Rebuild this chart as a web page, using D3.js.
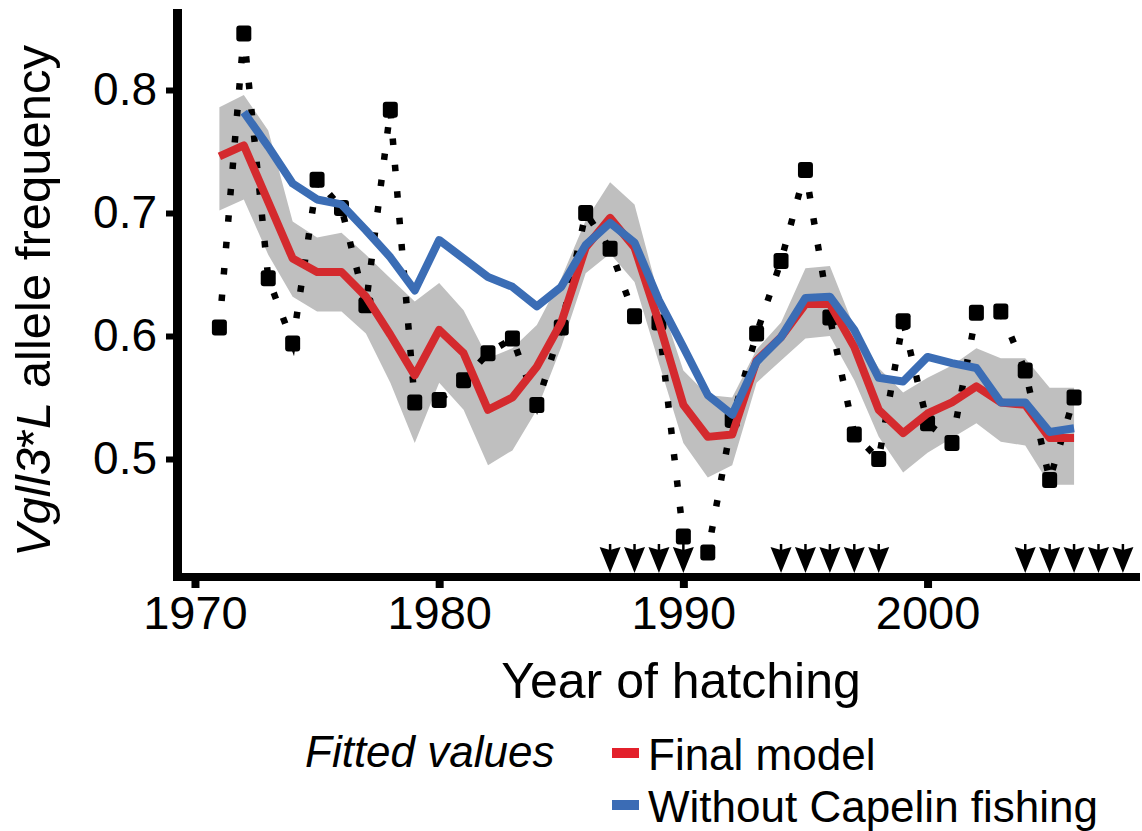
<!DOCTYPE html>
<html>
<head>
<meta charset="utf-8">
<script src="https://cdn.jsdelivr.net/npm/d3@7"></script>
<style>
  html, body { margin: 0; padding: 0; background: #ffffff; }
  svg { display: block; }
  text { font-family: "Liberation Sans", Arial, sans-serif; fill: #000; }
</style>
</head>
<body>
<svg id="chart" width="1142" height="831"></svg>
<script>
// ---------- data ----------
const years = [1971,1972,1973,1974,1975,1976,1977,1978,1979,1980,1981,1982,1983,1984,1985,1986,1987,1988,1989,1990,1991,1992,1993,1994,1995,1996,1997,1998,1999,2000,2001,2002,2003,2004,2005,2006];
const observed = [0.607,0.846,0.647,0.594,0.727,0.704,0.625,0.784,0.546,0.548,0.564,0.586,0.598,0.544,0.607,0.700,0.671,0.616,0.611,0.437,0.424,0.532,0.602,0.661,0.735,0.615,0.520,0.500,0.612,0.529,0.513,0.619,0.620,0.572,0.483,0.550];
const finalModel = [0.746,0.755,0.709,0.663,0.652,0.652,0.632,0.601,0.568,0.605,0.586,0.540,0.550,0.575,0.611,0.672,0.696,0.672,0.611,0.544,0.518,0.520,0.580,0.599,0.626,0.626,0.591,0.540,0.521,0.537,0.546,0.559,0.546,0.544,0.517,0.517];
const ciUpper = [0.786,0.796,0.767,0.693,0.680,0.684,0.666,0.647,0.628,0.643,0.621,0.582,0.590,0.609,0.647,0.694,0.725,0.707,0.632,0.572,0.552,0.550,0.589,0.611,0.655,0.657,0.607,0.574,0.554,0.566,0.576,0.590,0.582,0.582,0.558,0.558];
const ciLower = [0.702,0.711,0.666,0.632,0.620,0.620,0.602,0.562,0.513,0.562,0.540,0.495,0.507,0.540,0.591,0.651,0.667,0.644,0.578,0.513,0.485,0.495,0.562,0.580,0.598,0.600,0.564,0.518,0.489,0.505,0.517,0.529,0.514,0.511,0.479,0.479];
const noCapelinYears = [1972,1973,1974,1975,1976,1977,1978,1979,1980,1981,1982,1983,1984,1985,1986,1987,1988,1989,1990,1991,1992,1993,1994,1995,1996,1997,1998,1999,2000,2001,2002,2003,2004,2005,2006];
const withoutCapelin = [0.782,0.754,0.724,0.711,0.707,0.686,0.664,0.637,0.678,0.663,0.648,0.640,0.624,0.640,0.674,0.692,0.676,0.629,0.591,0.552,0.536,0.579,0.599,0.631,0.632,0.605,0.566,0.563,0.583,0.578,0.574,0.546,0.546,0.522,0.525];
const capelinClosureYears = [1987,1988,1989,1990,1994,1995,1996,1997,1998,2004,2005,2006,2007,2008];
const xTicks = [1970,1980,1990,2000];
const yTicks = [0.5,0.6,0.7,0.8];
const legendTitle = "Fitted values";
const legendLabels = ["Final model","Without Capelin fishing"];
const xTitle = "Year of hatching";

// ---------- layout ----------
const svg = d3.select("#chart");
const x = d3.scaleLinear().domain([1969.1, 2008.7]).range([173, 1140]);
const y = d3.scaleLinear().domain([0.5, 0.8]).range([459, 90]);
const yTop = 9, yBottom = 577;

const RED = "#d42a2e", BLUE = "#3b6db5", GREY = "#bfbfbf";

// CI band
const bandData = years.map((yr, i) => ({yr, lo: ciLower[i], hi: ciUpper[i]}));
svg.append("path")
  .datum(bandData)
  .attr("fill", GREY)
  .attr("d", d3.area().x(d => x(d.yr)).y0(d => y(d.lo)).y1(d => y(d.hi)));

// observed dotted line
const obsData = years.map((yr, i) => ({yr, v: observed[i]}));
svg.append("path")
  .datum(obsData)
  .attr("fill", "none")
  .attr("stroke", "#000")
  .attr("stroke-width", 6.5)
  .attr("stroke-dasharray", "6.5,20")
  .attr("d", d3.line().x(d => x(d.yr)).y(d => y(d.v)));

// observed squares
svg.append("g").selectAll("rect")
  .data(obsData)
  .join("rect")
  .attr("x", d => x(d.yr) - 7.5)
  .attr("y", d => y(d.v) - 8)
  .attr("width", 15)
  .attr("height", 16)
  .attr("rx", 3)
  .attr("fill", "#000");

// fitted lines
svg.append("path")
  .datum(years.map((yr, i) => ({yr, v: finalModel[i]})))
  .attr("fill", "none")
  .attr("stroke", RED)
  .attr("stroke-width", 8)
  .attr("stroke-linejoin", "round")
  .attr("d", d3.line().x(d => x(d.yr)).y(d => y(d.v)));

svg.append("path")
  .datum(noCapelinYears.map((yr, i) => ({yr, v: withoutCapelin[i]})))
  .attr("fill", "none")
  .attr("stroke", BLUE)
  .attr("stroke-width", 8)
  .attr("stroke-linejoin", "round")
  .attr("d", d3.line().x(d => x(d.yr)).y(d => y(d.v)));

// closure arrows
const arrowG = svg.append("g");
capelinClosureYears.forEach(yr => {
  const cx = x(yr);
  arrowG.append("line")
    .attr("x1", cx).attr("x2", cx).attr("y1", 544).attr("y2", 560)
    .attr("stroke", "#000").attr("stroke-width", 2.5);
  arrowG.append("path")
    .attr("d", `M${cx-10.5},547 L${cx},573 L${cx+10.5},547 L${cx},550 Z`)
    .attr("fill", "#000");
});

// axes
const xAxis = d3.axisBottom(x).tickValues(xTicks).tickFormat(d3.format("d")).tickSize(7).tickPadding(8);
const gx = svg.append("g").attr("transform", `translate(0,${yBottom + 4})`).call(xAxis);
gx.select(".domain").remove();
gx.selectAll(".tick line").attr("stroke", "#000").attr("stroke-width", 8);
gx.selectAll(".tick text").attr("font-size", 47).attr("font-family", "Liberation Sans, Arial, sans-serif").attr("fill", "#000");

const yAxis = d3.axisLeft(y).tickValues(yTicks).tickFormat(d3.format(".1f")).tickSize(7).tickPadding(9);
const gy = svg.append("g").attr("transform", `translate(${173},0)`).call(yAxis);
gy.select(".domain").remove();
gy.selectAll(".tick line").attr("stroke", "#000").attr("stroke-width", 6);
gy.selectAll(".tick text").attr("font-size", 46).attr("font-family", "Liberation Sans, Arial, sans-serif").attr("fill", "#000");

// axis lines (L-shape)
svg.append("line").attr("x1", 177.5).attr("x2", 177.5).attr("y1", yTop).attr("y2", yBottom + 4)
  .attr("stroke", "#000").attr("stroke-width", 9);
svg.append("line").attr("x1", 173).attr("x2", 1140).attr("y1", yBottom).attr("y2", yBottom)
  .attr("stroke", "#000").attr("stroke-width", 8);

// axis titles
svg.append("text")
  .attr("x", 681).attr("y", 698)
  .attr("text-anchor", "middle")
  .attr("font-size", 50)
  .text(xTitle);

const yl = svg.append("text")
  .attr("transform", "translate(50,301) rotate(-90)")
  .attr("text-anchor", "middle")
  .attr("font-size", 49);
yl.append("tspan").attr("font-style", "italic").text("Vgll3");
yl.append("tspan").text("*");
yl.append("tspan").attr("font-style", "italic").text("L");
yl.append("tspan").text(" allele frequency");

// legend
svg.append("text")
  .attr("x", 305).attr("y", 767)
  .attr("font-size", 44)
  .attr("font-style", "italic")
  .text(legendTitle);

const legColors = ["#e3202b", "#3b6cb5"];
const legBase = [770, 822];
legendLabels.forEach((lab, i) => {
  svg.append("rect")
    .attr("x", 612).attr("y", legBase[i] - 22)
    .attr("width", 27).attr("height", 10)
    .attr("fill", legColors[i]);
  svg.append("text")
    .attr("x", 648).attr("y", legBase[i])
    .attr("font-size", 44)
    .text(lab);
});
</script>
</body>
</html>
